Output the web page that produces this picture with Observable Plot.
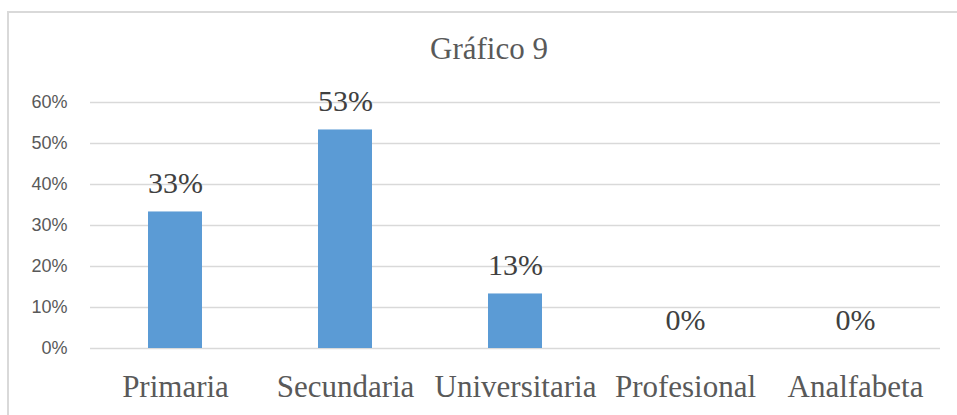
<!DOCTYPE html>
<html>
<head>
<meta charset="utf-8">
<script src="https://cdn.jsdelivr.net/npm/d3@7"></script>
<script src="https://cdn.jsdelivr.net/npm/@observablehq/plot@0.6"></script>
<style>
  html, body { margin: 0; padding: 0; background: #fff; width: 957px; height: 415px; overflow: hidden; }
  #wrap { position: relative; width: 957px; height: 415px; }
  #frame { position: absolute; left: 7px; top: 11px; width: 1000px; height: 500px;
           border-left: 2px solid #d9d9d9; border-top: 2px solid #d9d9d9; }
  #title { position: absolute; left: 389px; width: 200px; top: 31px; text-align: center;
           font-family: "Liberation Serif", "Times New Roman", serif; font-size: 31px;
           color: #595959; line-height: 36px; }
  #chart { position: absolute; left: 0; top: 0; }
</style>
</head>
<body>
<div id="wrap">
  <div id="frame"></div>
  <div id="chart"></div>
  <div id="title">Gráfico 9</div>
</div>
<script>
const categories = ["Primaria", "Secundaria", "Universitaria", "Profesional", "Analfabeta"];
const values = [0.333, 0.533, 0.133, 0, 0];
const valueLabels = ["33%", "53%", "13%", "0%", "0%"];
const yTicks = [0, 0.1, 0.2, 0.3, 0.4, 0.5, 0.6];

const data = categories.map((c, i) => ({category: c, value: values[i], label: valueLabels[i]}));

const chart = Plot.plot({
  width: 957,
  height: 415,
  marginLeft: 90,
  marginRight: 17,
  marginTop: 102,
  marginBottom: 67,
  style: {background: "transparent", overflow: "visible"},
  x: {domain: categories, paddingInner: 0.68, paddingOuter: 0.34, axis: null},
  y: {domain: [0, 0.6], axis: null},
  marks: [
    Plot.ruleY(yTicks, {stroke: "#d9d9d9", strokeWidth: 1.6}),
    Plot.barY(data, {x: "category", y: "value", fill: "#5B9BD5"}),
    Plot.text(data, {x: "category", y: "value", text: "label", lineAnchor: "bottom", dy: -19,
      fontSize: 30, fontFamily: "Liberation Serif, Times New Roman, serif", fill: "#404040"}),
    Plot.axisY({ticks: yTicks, tickFormat: d3.format(".0%"), tickSize: 0, tickPadding: 23, label: null,
      fontSize: 18, fontFamily: "Liberation Sans, Arial, sans-serif", color: "#595959"}),
    Plot.axisX({tickSize: 0, tickPadding: 26, fontSize: 31, label: null,
      fontFamily: "Liberation Serif, Times New Roman, serif", color: "#595959"})
  ]
});
document.getElementById("chart").appendChild(chart);
</script>
</body>
</html>
